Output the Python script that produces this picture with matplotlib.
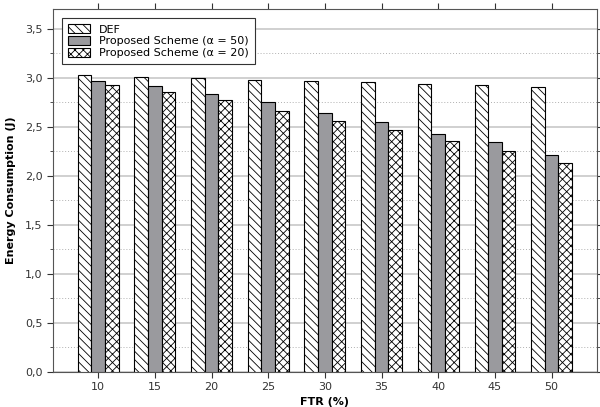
import numpy as np
import matplotlib.pyplot as plt
from matplotlib.ticker import MultipleLocator, FuncFormatter

ftr = [10, 15, 20, 25, 30, 35, 40, 45, 50]
def_vals = [3.03, 3.01, 3.00, 2.98, 2.965, 2.96, 2.94, 2.92, 2.905]
alpha50 = [2.97, 2.91, 2.835, 2.75, 2.64, 2.55, 2.43, 2.34, 2.21]
alpha20 = [2.93, 2.85, 2.77, 2.665, 2.555, 2.47, 2.35, 2.25, 2.13]
labels = ['DEF', 'Proposed Scheme (α = 50)', 'Proposed Scheme (α = 20)']

plt.rcParams['font.family'] = ['DejaVu Sans']
plt.rcParams['hatch.linewidth'] = 0.6

fig, ax = plt.subplots(figsize=(6.0, 4.07), dpi=100)
fig.subplots_adjust(left=0.088, right=0.995, top=0.978, bottom=0.086)

x = np.array(ftr, dtype=float)
w = 1.2
ax.bar(x - w, def_vals, w, color='white', edgecolor='black', hatch='\\\\\\\\', lw=0.8, label=labels[0], zorder=3)
ax.bar(x, alpha50, w, color='#9a9a9e', edgecolor='black', lw=0.8, label=labels[1], zorder=3)
ax.bar(x + w, alpha20, w, color='white', edgecolor='black', hatch='xxxx', lw=0.8, label=labels[2], zorder=3)

ax.set_xlim(6, 54)
ax.set_ylim(0, 3.7)
ax.set_xticks(ftr)
ax.yaxis.set_major_locator(MultipleLocator(0.5))
ax.yaxis.set_minor_locator(MultipleLocator(0.25))
ax.yaxis.set_major_formatter(FuncFormatter(lambda v, p: f'{v:.1f}'.replace('.', ',')))

ax.grid(which='major', axis='y', color='#c8c8c8', lw=1.2, zorder=0)
ax.grid(which='minor', axis='y', color='#b0b0b0', lw=0.7, ls=(0, (1, 2)), zorder=0)

ax.tick_params(axis='both', which='both', labelsize=8, colors='#333333')
ax.tick_params(axis='x', top=True, direction='out', length=4)
ax.tick_params(axis='y', right=True, direction='out', length=4)
ax.tick_params(axis='y', which='minor', length=2.5, right=True)
for s in ax.spines.values():
    s.set_color('#555555')

ax.set_xlabel('FTR (%)', fontsize=8, fontweight='bold', labelpad=3)
ax.set_ylabel('Energy Consumption (J)', fontsize=8, fontweight='bold', labelpad=6)

leg = ax.legend(loc='upper left', bbox_to_anchor=(0.006, 0.99), fontsize=8,
                fancybox=False, edgecolor='#333333', framealpha=1,
                handlelength=2.0, handleheight=0.9, labelspacing=0.12, borderpad=0.55)
leg.get_frame().set_linewidth(0.8)

fig.savefig('out.png', dpi=100)
